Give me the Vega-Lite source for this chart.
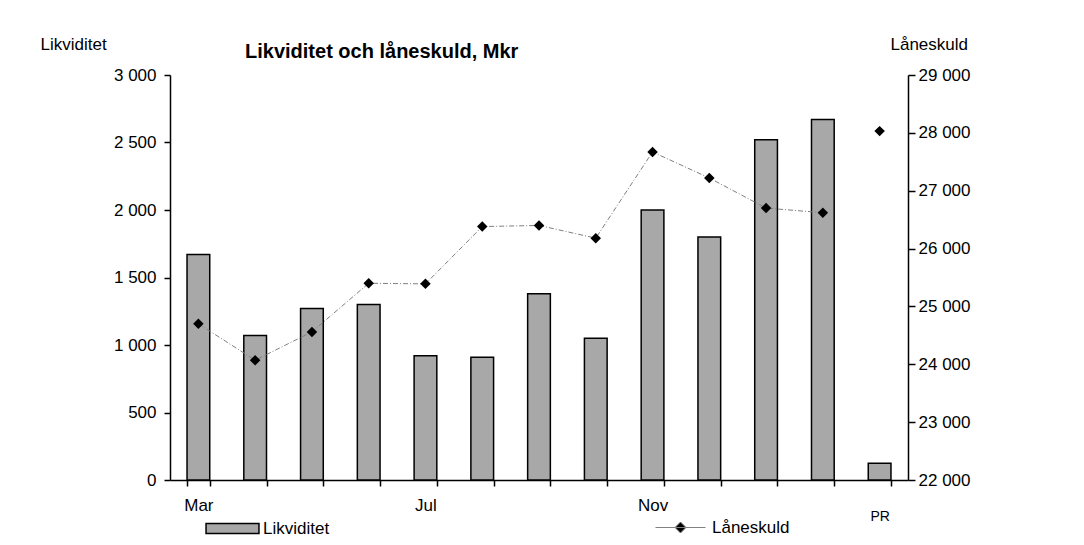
{
  "$schema": "https://vega.github.io/schema/vega-lite/v6.json",
  "width": 738,
  "height": 405,
  "autosize": {"type": "none"},
  "padding": {"left": 170, "top": 75, "right": 176, "bottom": 65},
  "background": "white",
  "config": {
    "font": "Liberation Sans",
    "view": {"stroke": null},
    "axis": {
      "domainColor": "black",
      "tickColor": "black",
      "labelColor": "black",
      "titleColor": "black",
      "labelFontSize": 17,
      "titleFontSize": 17,
      "titleFontWeight": "normal",
      "grid": false,
      "domainWidth": 1.5,
      "tickWidth": 1.5
    },
    "legend": {"labelFontSize": 17, "labelColor": "black", "orient": "none"}
  },
  "title": {
    "text": "Likviditet och låneskuld, Mkr",
    "anchor": "start",
    "dx": 205,
    "dy": 31,
    "fontSize": 20,
    "fontWeight": "bold",
    "font": "Liberation Sans",
    "color": "black"
  },
  "data": {
    "values": [
      {"month": "Mar", "Likviditet": 1670, "Laneskuld": 24700},
      {"month": "Apr", "Likviditet": 1070, "Laneskuld": 24070},
      {"month": "Maj", "Likviditet": 1270, "Laneskuld": 24560},
      {"month": "Jun", "Likviditet": 1300, "Laneskuld": 25400},
      {"month": "Jul", "Likviditet": 920, "Laneskuld": 25390},
      {"month": "Aug", "Likviditet": 910, "Laneskuld": 26380},
      {"month": "Sep", "Likviditet": 1380, "Laneskuld": 26400},
      {"month": "Okt", "Likviditet": 1050, "Laneskuld": 26180},
      {"month": "Nov", "Likviditet": 2000, "Laneskuld": 27670},
      {"month": "Dec", "Likviditet": 1800, "Laneskuld": 27220},
      {"month": "Jan", "Likviditet": 2520, "Laneskuld": 26700},
      {"month": "Feb", "Likviditet": 2670, "Laneskuld": 26620},
      {"month": "-", "Likviditet": null, "Laneskuld": null},
      {"month": "PR", "Likviditet": 125, "Laneskuld": 28030}
    ]
  },
  "encoding": {
    "x": {
      "field": "month",
      "type": "nominal",
      "sort": null,
      "title": null,
      "scale": {"paddingInner": 0.6, "paddingOuter": 0.3},
      "axis": {
        "labelAngle": 0,
        "tickBand": "extent",
        "tickSize": 6,
        "labelBaseline": "top",
        "labelPadding": {"condition": {"test": "datum.value == 'PR'", "value": 23}, "value": 11},
        "labelFontSize": {"condition": {"test": "datum.value == 'PR'", "value": 14}, "value": 17},
        "labelExpr": "indexof(['Mar','Jul','Nov','PR'], datum.value) >= 0 ? datum.value : ''"
      }
    }
  },
  "layer": [
    {
      "mark": {"type": "bar", "stroke": "black", "strokeWidth": 1.5},
      "encoding": {
        "y": {
          "field": "Likviditet",
          "type": "quantitative",
          "scale": {"domain": [0, 3000]},
          "axis": {
            "values": [0, 500, 1000, 1500, 2000, 2500, 3000],
            "tickSize": 6,
            "labelPadding": 8,
            "labelExpr": "replace(format(datum.value, ','), ',', ' ')",
            "title": "Likviditet",
            "titleAngle": 0,
            "titleAlign": "left",
            "titleBaseline": "middle",
            "titleX": -130,
            "titleY": -31
          }
        },
        "fill": {
          "datum": "Likviditet",
          "scale": {"range": ["#a8a8a8"]},
          "legend": {
            "title": null,
            "legendX": 35,
            "legendY": 426,
            "symbolType": "M-1,-0.19H1V0.19H-1Z",
            "symbolSize": 2800,
            "symbolStrokeColor": "black",
            "symbolStrokeWidth": 1.5,
            "labelOffset": 3
          }
        }
      }
    },
    {
      "encoding": {
        "y": {
          "field": "Laneskuld",
          "type": "quantitative",
          "scale": {"domain": [22000, 29000]},
          "axis": {
            "orient": "right",
            "values": [22000, 23000, 24000, 25000, 26000, 27000, 28000, 29000],
            "tickSize": 7,
            "labelPadding": 3,
            "labelExpr": "replace(format(datum.value, ','), ',', ' ')",
            "title": "Låneskuld",
            "titleAngle": 0,
            "titleAlign": "left",
            "titleBaseline": "middle",
            "titleX": -18,
            "titleY": -31
          }
        }
      },
      "layer": [
        {
          "transform": [{"filter": "datum.month != 'PR' && datum.Laneskuld != null"}],
          "mark": {"type": "line", "strokeWidth": 1, "strokeDash": [5, 2, 1, 2]},
          "encoding": {
            "stroke": {
              "datum": "Låneskuld",
              "scale": {"range": ["#808080"]},
              "legend": {
                "title": null,
                "legendX": 485,
                "legendY": 427,
                "symbolType": "M-1,0H1M0,-0.22L0.22,0L0,0.22L-0.22,0Z",
                "symbolSize": 2500,
                "symbolFillColor": "black",
                "symbolStrokeColor": "black",
                "symbolStrokeWidth": 1,
                "symbolDash": [],
                "labelOffset": 6
              }
            }
          }
        },
        {
          "transform": [{"filter": "datum.Laneskuld != null"}],
          "mark": {"type": "point", "shape": "diamond", "filled": true, "color": "black", "size": 110, "opacity": 1},
          "encoding": {}
        }
      ]
    }
  ],
  "resolve": {"scale": {"y": "independent"}}
}
